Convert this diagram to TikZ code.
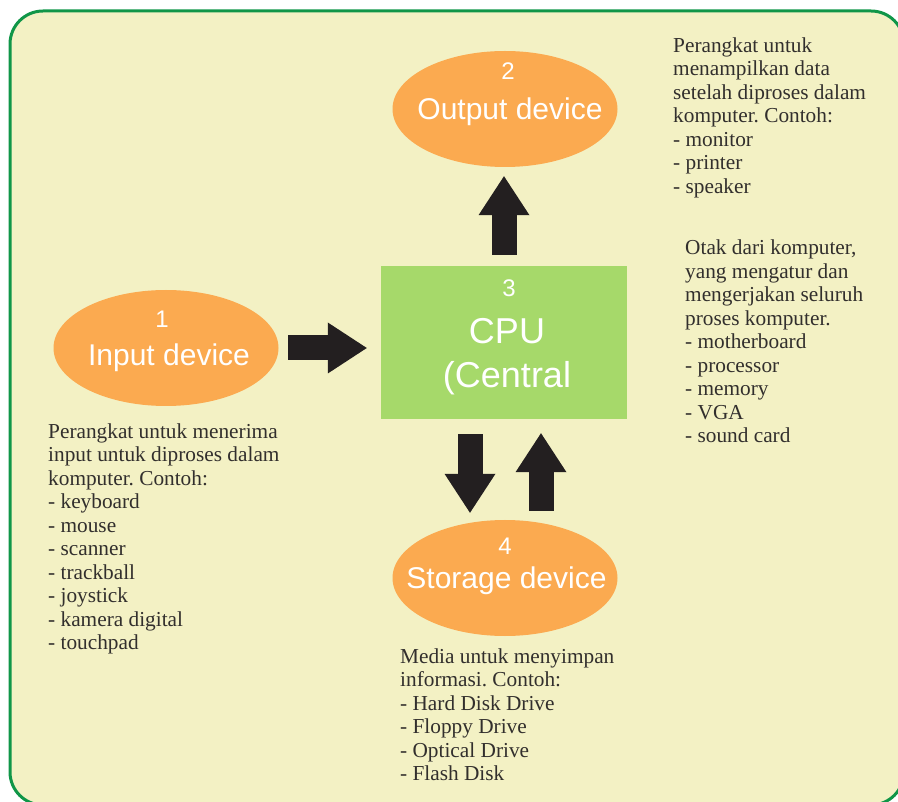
\documentclass[tikz,border=0pt]{standalone}
\usepackage{fontspec}
\setmainfont{Liberation Serif}
\setsansfont{Liberation Sans}
\usetikzlibrary{arrows.meta,shapes.geometric,calc}
\definecolor{figG}{RGB}{16,150,72}
\definecolor{figY}{RGB}{243,241,196}
\definecolor{figO}{RGB}{251,170,80}
\definecolor{figL}{RGB}{166,217,106}
\definecolor{figK}{RGB}{35,31,32}
\definecolor{figT}{RGB}{50,47,45}
\frenchspacing

\begin{document}
\begin{tikzpicture}[x=1pt,y=-1pt,
  oval/.style={ellipse,fill=figO,minimum width=225pt,minimum height=116pt,inner sep=0pt},
  num/.style={text=white,inner sep=0pt,font=\sffamily\fontsize{24}{24}\selectfont,text height=17.2pt,text depth=0pt},
  lbl/.style={text=white,inner sep=0pt,font=\sffamily\fontsize{30}{30}\selectfont,text height=21.5pt,text depth=0pt},
  note/.style={anchor=north west,align=left,inner sep=0pt,text=figT,font=\fontsize{21.3}{23.5}\selectfont},
  blk/.style={figK,line width=25pt,-{Triangle[length=39pt,width=51pt,line width=0pt]}}]
\useasboundingbox (0,0) rectangle (898,802);
\begin{scope}
\clip (0,0) rectangle (898,802);
\draw[figG,line width=3pt,fill=figY,rounded corners=33pt] (10,11) rectangle (904,805);
\end{scope}

\node[oval] (in) at (166,348) {};
\node[oval] (out) at (505,109) {};
\node[oval] (sto) at (505,578) {};
\node[fill=figL,minimum width=246pt,minimum height=153pt,inner sep=0pt] (cpu) at (504,342.5) {};

\node[num] (n1) at (162,318.5) {1};
\node[num] (n2) at (508,70.5) {2};
\node[num] (n3) at (509,288) {3};
\node[num] (n4) at (505,545.5) {4};
\node[lbl] (inT) at (169,354.5) {Input device};
\node[lbl] (outT) at (510,108.5) {Output device};
\node[lbl] (stoT) at (506.5,578) {Storage device};
\node[text=white,inner sep=0pt,align=center,font=\sffamily\fontsize{36}{44}\selectfont] (cpuT) at (507,357) {CPU\\(Central};

\draw[blk,shorten <=9.5pt,shorten >=14pt] (in.east) -- (in.east -| cpu.west);
\draw[blk,shorten <=11pt,shorten >=9pt] (cpu.north) -- (cpu.north |- out.south);
\draw[blk,shorten <=15pt,shorten >=7pt] ($(cpu.south)+(-34,0)$) -- ($(cpu.south |- sto.north)+(-34,0)$);
\draw[blk,shorten <=9pt,shorten >=14pt] ($(cpu.south |- sto.north)+(37,0)$) -- ($(cpu.south)+(37,0)$);

\node[note] (inN) at (48,423.5) {Perangkat untuk menerima\\input untuk diproses dalam\\komputer. Contoh:\\- keyboard\\- mouse\\- scanner\\- trackball\\- joystick\\- kamera digital\\- touchpad};
\node[note] (outN) at (673,37.5) {Perangkat untuk\\menampilkan data\\setelah diproses dalam\\komputer. Contoh:\\- monitor\\- printer\\- speaker};
\node[note] (cpuN) at (685,240) {Otak dari komputer,\\yang mengatur dan\\mengerjakan seluruh\\proses komputer.\\- motherboard\\- processor\\- memory\\- VGA\\- sound card};
\node[note] (stoN) at (400,648.5) {Media untuk menyimpan\\informasi. Contoh:\\- Hard Disk Drive\\- Floppy Drive\\- Optical Drive\\- Flash Disk};
\end{tikzpicture}
\end{document}
